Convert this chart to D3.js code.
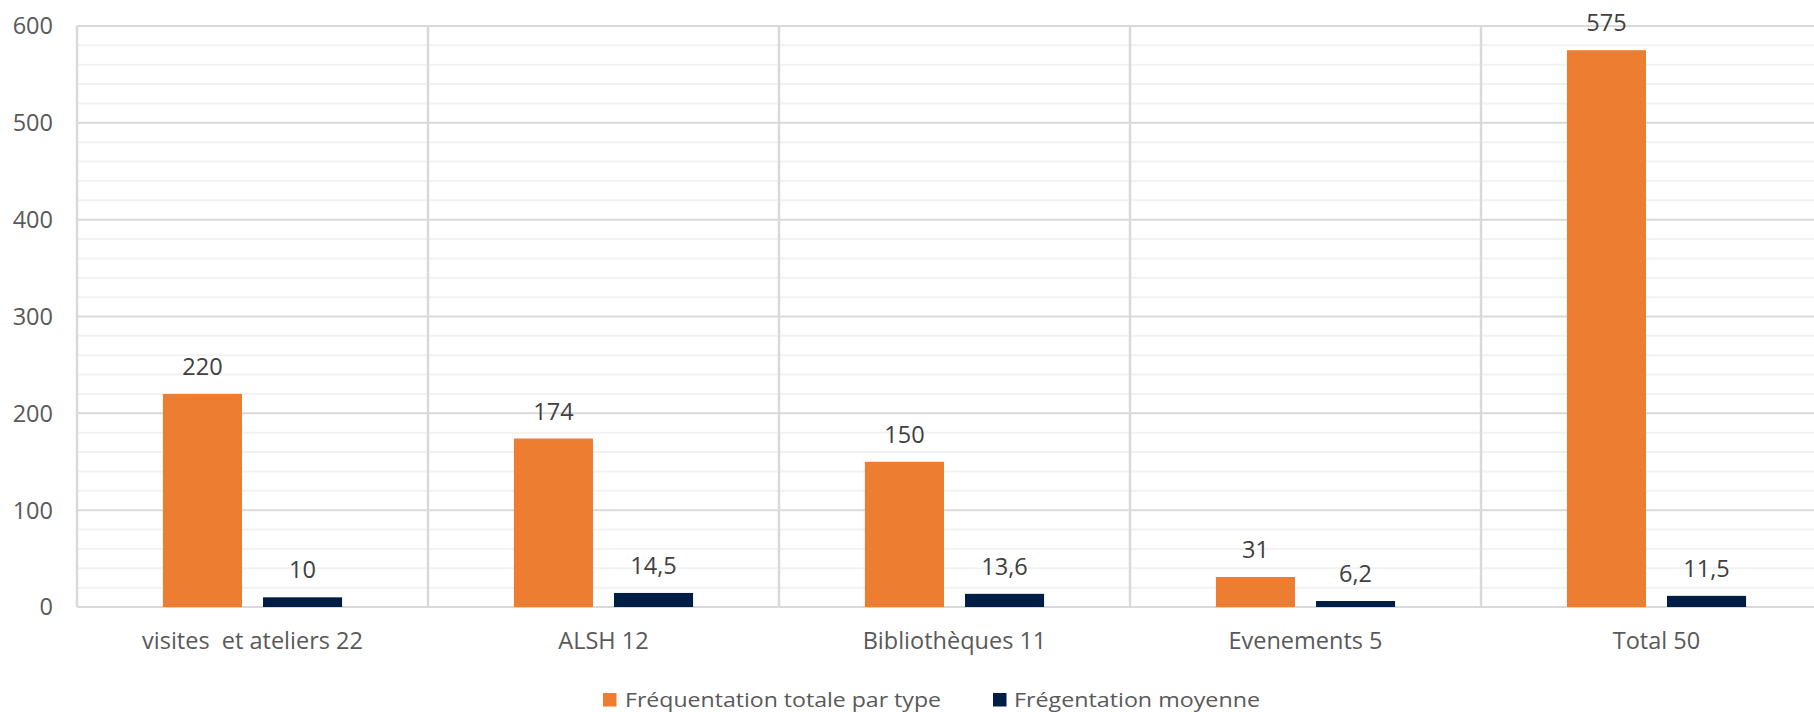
<!DOCTYPE html>
<html>
<head>
<meta charset="utf-8">
<script src="https://cdn.jsdelivr.net/npm/d3@7"></script>
<style>
  html, body { margin: 0; padding: 0; background: #fff; }
  svg { display: block; font-family: "Open Sans", sans-serif; }
  .pre { white-space: pre; }
</style>
</head>
<body>
<div id="chart"></div>
<script>
// chart data
const categories = ['visites  et ateliers 22', 'ALSH 12', 'Bibliothèques 11', 'Evenements 5', 'Total 50'];
const totalParType = [220, 174, 150, 31, 575];
const moyenne = [10, 14.5, 13.6, 6.2, 11.5];
const seriesNames = ['Fréquentation totale par type', 'Frégentation moyenne'];
const yTicks = [0, 100, 200, 300, 400, 500, 600];

const colors = ['#ED7D31', '#001E45'];
const width = 1814, height = 712;
const margin = { top: 26, right: -18, bottom: 105, left: 77 };

const svg = d3.select('#chart').append('svg')
  .attr('width', width)
  .attr('height', height);

const x0 = d3.scaleBand()
  .domain(categories)
  .range([margin.left, width - margin.right])
  .paddingInner(0)
  .paddingOuter(0);

const x1 = d3.scaleBand()
  .domain([0, 1])
  .range([0, x0.bandwidth()])
  .paddingInner(0.21)
  .paddingOuter(0.8585);

const y = d3.scaleLinear()
  .domain([0, 600])
  .range([height - margin.bottom, margin.top]);

// minor gridlines every 20
const minor = d3.range(20, 600, 20).filter(v => v % 100 !== 0);
svg.append('g')
  .selectAll('line')
  .data(minor)
  .enter()
  .append('line')
  .attr('x1', margin.left)
  .attr('x2', width)
  .attr('y1', d => y(d))
  .attr('y2', d => y(d))
  .attr('stroke', '#f2f2f2')
  .attr('stroke-width', 2);

// major gridlines
svg.append('g')
  .selectAll('line')
  .data(yTicks)
  .enter()
  .append('line')
  .attr('x1', margin.left)
  .attr('x2', width)
  .attr('y1', d => y(d))
  .attr('y2', d => y(d))
  .attr('stroke', '#d9d9d9')
  .attr('stroke-width', 2);

// vertical category separators
svg.append('g')
  .selectAll('line')
  .data(categories)
  .enter()
  .append('line')
  .attr('x1', d => x0(d))
  .attr('x2', d => x0(d))
  .attr('y1', y(600))
  .attr('y2', y(0))
  .attr('stroke', '#d9d9d9')
  .attr('stroke-width', 2.5);

// y axis labels
svg.append('g')
  .selectAll('text')
  .data(yTicks)
  .enter()
  .append('text')
  .attr('x', 53)
  .attr('y', d => y(d))
  .attr('dy', '0.36em')
  .attr('text-anchor', 'end')
  .attr('fill', '#595959')
  .style('font-size', '23.5px')
  .text(d => d);

// bars
const series = [totalParType, moyenne];
const fmt = v => String(v).replace('.', ',');

series.forEach((vals, s) => {
  const g = svg.append('g');
  g.selectAll('rect')
    .data(vals)
    .enter()
    .append('rect')
    .attr('x', (d, i) => x0(categories[i]) + x1(s))
    .attr('y', d => y(d))
    .attr('width', x1.bandwidth())
    .attr('height', d => y(0) - y(d))
    .attr('fill', colors[s]);

  g.selectAll('text')
    .data(vals)
    .enter()
    .append('text')
    .attr('x', (d, i) => x0(categories[i]) + x1(s) + x1.bandwidth() / 2)
    .attr('y', d => y(d) - 19)
    .attr('text-anchor', 'middle')
    .attr('fill', '#404040')
    .style('font-size', '23.5px')
    .text(d => fmt(d));
});

// category labels
svg.append('g')
  .selectAll('text')
  .data(categories)
  .enter()
  .append('text')
  .attr('class', 'pre')
  .attr('x', d => x0(d) + x0.bandwidth() / 2)
  .attr('y', 649)
  .attr('text-anchor', 'middle')
  .attr('fill', '#595959')
  .style('font-size', '23.5px')
  .text(d => d);

// legend
const legendItems = [
  { sq: 603, tx: 625, w: 316 },
  { sq: 993, tx: 1014, w: 246 }
];
const legend = svg.append('g');
legendItems.forEach((it, i) => {
  legend.append('rect')
    .attr('x', it.sq)
    .attr('y', 693)
    .attr('width', 13.5)
    .attr('height', 13.5)
    .attr('fill', colors[i]);
  legend.append('text')
    .attr('x', it.tx)
    .attr('y', 707)
    .attr('fill', '#595959')
    .attr('textLength', it.w)
    .attr('lengthAdjust', 'spacingAndGlyphs')
    .style('font-size', '20px')
    .text(seriesNames[i]);
});
</script>
</body>
</html>
